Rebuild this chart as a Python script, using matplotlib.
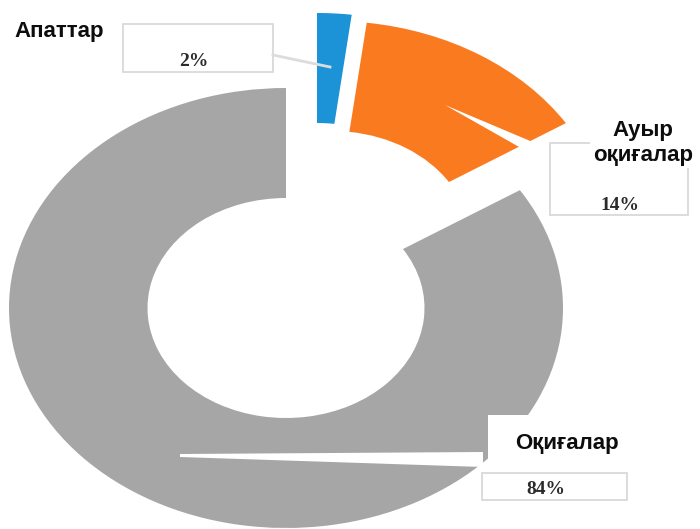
import matplotlib
matplotlib.use("Agg")
import matplotlib.pyplot as plt
from matplotlib.patches import Rectangle, Polygon

# data
labels = ["Апаттар", "Ауыр\nоқиғалар", "Оқиғалар"]
values = [2, 14, 84]
pct_labels = ["2%", "14%", "84%"]
colors = ["#1b93d6", "#fa7a1f", "#a6a6a6"]

W, H = 700, 529
fig = plt.figure(figsize=(W / 100, H / 100), dpi=100)

# donut axes: ellipse (image is stretched horizontally)
cx, cy = 286, 308      # centre in px
rx, ry = 277, 220      # outer radii in px
ax = fig.add_axes([0, 0, 1, 1])
wedges, _ = ax.pie(values, colors=colors, startangle=90, counterclock=False,
                   radius=1, wedgeprops=dict(width=0.5, linewidth=0))
ax.set_aspect("auto")
ax.set_xlim(-cx / rx, (W - cx) / rx)
ax.set_ylim(-(H - cy) / ry, cy / ry)
ax.axis("off")

# exploded slices (px offsets, like the excel chart)
shifts = [(31, 75), (46, 67), (0, 0)]
for w, (dx, dy) in zip(wedges, shifts):
    w.set_center((dx / rx, dy / ry))

# overlay in pixel coords for callouts
ov = fig.add_axes([0, 0, 1, 1])
ov.set_xlim(0, W)
ov.set_ylim(H, 0)
ov.axis("off")
ov.patch.set_alpha(0)

box_ec = "#d6d6d6"
name_font = dict(family=["Liberation Sans", "DejaVu Sans"], weight="bold",
                 size=16, color="#0d0d0d")
pct_font = dict(family=["Liberation Serif", "DejaVu Serif"], weight="bold",
                size=14, color="#2b2b2b")

# leader lines
ov.plot([273, 330], [55, 67], color="#dcdcdc", lw=2)
ov.add_patch(Polygon([(445, 105), (535, 143), (552, 146), (552, 150), (528, 152)],
                     closed=True, fc="white", ec="none"))
ov.add_patch(Polygon([(180, 454), (483, 452), (483, 467), (180, 457)],
                     closed=True, fc="white", ec="none"))

# Апаттар
ov.add_patch(Rectangle((123, 24), 150, 48, fc="white", ec=box_ec, lw=1.2))
ov.text(14, 31, labels[0], ha="left", va="center", **name_font)
ov.text(194, 62, pct_labels[0], ha="center", va="center", **pct_font)

# Ауыр оқиғалар
ov.add_patch(Rectangle((550, 143), 138, 72, fc="white", ec=box_ec, lw=1.2))
ov.text(643, 143, labels[1], ha="center", va="center", linespacing=1.2,
        bbox=dict(fc="white", ec="none", pad=2), **name_font)
ov.text(620, 206, pct_labels[1], ha="center", va="center", **pct_font)

# Оқиғалар
ov.add_patch(Rectangle((488, 415), 150, 58, fc="white", ec="none"))
ov.add_patch(Rectangle((482, 473), 145, 27, fc="white", ec=box_ec, lw=1.2))
ov.text(567, 443, labels[2], ha="center", va="center", **name_font)
ov.text(546, 489, pct_labels[2], ha="center", va="center", **pct_font)

fig.savefig("out.png", dpi=100, facecolor="white")
